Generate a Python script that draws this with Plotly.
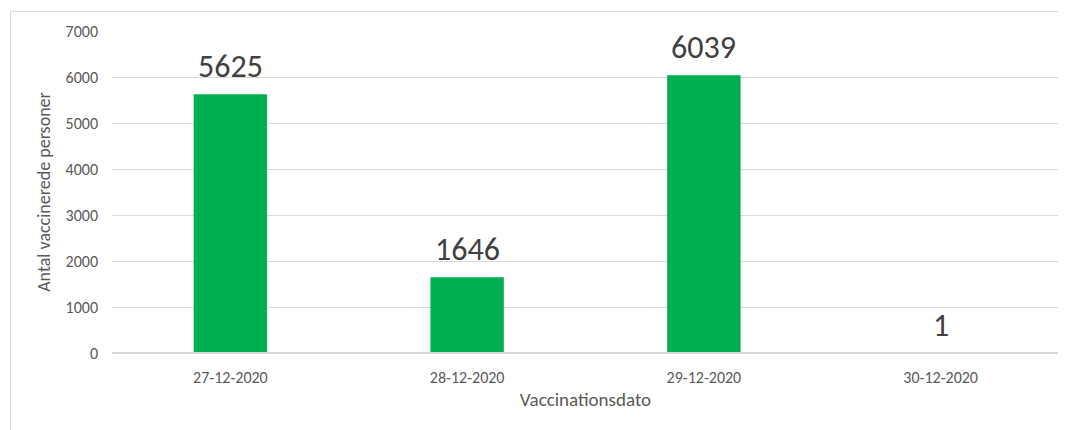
import plotly.graph_objects as go

categories = ["27-12-2020", "28-12-2020", "29-12-2020", "30-12-2020"]
values = [5625, 1646, 6039, 1]

FONT = "Carlito, Calibri, Lato, sans-serif"
W, H = 1058, 422          # page body has an 8px margin
L, R, T, B = 104, 7, 23, 77
pw, ph = W - L - R, H - T - B

def px(x):
    return (x - L) / pw

def py(y):
    return (H - B - y) / ph

fig = go.Figure(go.Bar(
    x=categories, y=values,
    marker=dict(color="#00B050", line=dict(width=0)),
    width=0.31,
    cliponaxis=False,
    hoverinfo="x+y",
))

annotations = [
    dict(x=c, y=v, xref="x", yref="y", text=str(v), showarrow=False,
         yanchor="bottom", yshift=6,
         font=dict(size=32, color="#404040", family=FONT))
    for c, v in zip(categories, values)
]

fig.update_layout(
    width=W, height=H,
    margin=dict(l=L, r=R, t=T, b=B, autoexpand=False),
    paper_bgcolor="white", plot_bgcolor="white",
    font=dict(family=FONT, color="#595959", size=16),
    showlegend=False,
    annotations=annotations,
    xaxis=dict(
        showgrid=False, showline=False, ticks="",
        tickfont=dict(size=16, color="#595959"), ticklabelstandoff=13,
        title=dict(text="Vaccinationsdato", font=dict(size=19, color="#595959"), standoff=6),
        automargin=False,
    ),
    yaxis=dict(
        range=[0, 7000], dtick=1000, showgrid=True, gridcolor="#d9d9d9", gridwidth=1,
        zeroline=True, zerolinecolor="#d9d9d9", zerolinewidth=1,
        ticks="", tickfont=dict(size=16, color="#595959"), ticklabelstandoff=13,
        title=dict(text="Antal vaccinerede personer", font=dict(size=18, color="#595959"), standoff=10),
        automargin=False,
    ),
    shapes=[
        dict(type="rect", xref="paper", yref="paper",
             x0=px(2.5), x1=px(1070), y0=py(3.5), y1=py(440),
             line=dict(color="#d9d9d9", width=1), layer="below"),
        dict(type="line", xref="paper", yref="y", x0=0, x1=1, y0=0, y1=0,
             line=dict(color="#d9d9d9", width=2), layer="above"),
    ],
)

fig.write_html("out.html")
